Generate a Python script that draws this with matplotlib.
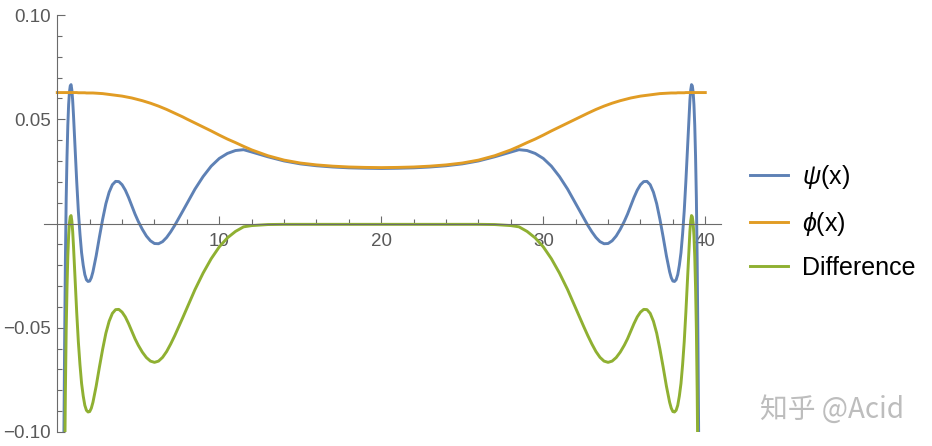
import numpy as np
import matplotlib
matplotlib.use("Agg")
import matplotlib.pyplot as plt
from matplotlib.ticker import FixedLocator

plt.rcParams['font.family'] = ['Liberation Sans', 'DejaVu Sans']
plt.rcParams['mathtext.fontset'] = 'custom'
plt.rcParams['mathtext.it'] = 'Liberation Sans:italic'
plt.rcParams['mathtext.rm'] = 'Liberation Sans'

# 采样点
x_vals = [0.0, 0.1, 0.2, 0.3, 0.35, 0.4, 0.45, 0.5, 0.55, 0.6,
          0.65, 0.7, 0.75, 0.8, 0.85, 0.9, 0.95, 1.0,
          1.1, 1.2, 1.3, 1.4, 1.5, 1.6, 1.7, 1.8, 1.9, 2.0, 2.1, 2.2,
          2.4, 2.6, 2.8, 3.0, 3.2, 3.4, 3.6, 3.8, 4.0, 4.2, 4.4, 4.6, 4.8,
          5.0, 5.25, 5.5, 5.75, 6.0, 6.25, 6.5, 6.75, 7.0, 7.25, 7.5, 7.75,
          8.0, 8.5, 9.0, 9.5, 10.0, 10.5, 11.0, 11.5, 12.0,
          13, 14, 15, 16, 17, 18, 19, 20,
          21, 22, 23, 24, 25, 26, 27,
          28.0, 28.5, 29.0, 29.5, 30.0, 30.5, 31.0, 31.5,
          32.0, 32.25, 32.5, 32.75, 33.0, 33.25, 33.5, 33.75, 34.0, 34.25, 34.5, 34.75,
          35.0, 35.2, 35.4, 35.6, 35.8, 36.0, 36.2, 36.4, 36.6, 36.8, 37.0, 37.2, 37.4, 37.6,
          37.8, 37.9, 38.0, 38.1, 38.2, 38.3, 38.4, 38.5, 38.6, 38.7, 38.8, 38.9,
          39.0, 39.05, 39.1, 39.15, 39.2, 39.25, 39.3, 39.35, 39.4, 39.45, 39.5, 39.55, 39.6, 39.65, 39.7,
          39.8, 39.9, 40.0]

psi_vals = [-0.40, -0.33, -0.26, -0.19, -0.15, -0.11, -0.06, -0.018, 0.012, 0.032,
            0.047, 0.057, 0.063, 0.066, 0.0666, 0.064, 0.059, 0.052,
            0.036, 0.020, 0.006, -0.005, -0.014, -0.020, -0.0245, -0.027, -0.0278, -0.0276, -0.026, -0.0232,
            -0.0155, -0.0065, 0.0020, 0.0095, 0.0150, 0.0186, 0.0202, 0.0201, 0.0186, 0.0160, 0.0125, 0.0085, 0.0045,
            0.0010, -0.0028, -0.0060, -0.0083, -0.0096, -0.0097, -0.0087, -0.0067, -0.0040, -0.0009, 0.0025, 0.0060,
            0.0095, 0.0165, 0.0225, 0.0275, 0.0312, 0.0336, 0.0350, 0.0354, 0.0343,
            0.0320, 0.0300, 0.0286, 0.0277, 0.0271, 0.0267, 0.0265, 0.0264,
            0.0265, 0.0267, 0.0271, 0.0277, 0.0286, 0.0300, 0.0320,
            0.0343, 0.0354, 0.0350, 0.0336, 0.0312, 0.0275, 0.0225, 0.0165,
            0.0095, 0.0060, 0.0025, -0.0009, -0.0040, -0.0067, -0.0087, -0.0097, -0.0096, -0.0083, -0.0060, -0.0028,
            0.0010, 0.0045, 0.0085, 0.0125, 0.0160, 0.0186, 0.0201, 0.0202, 0.0186, 0.0150, 0.0095, 0.0020, -0.0065, -0.0155,
            -0.0232, -0.026, -0.0276, -0.0278, -0.027, -0.0245, -0.020, -0.014, -0.005, 0.006, 0.020, 0.036,
            0.052, 0.059, 0.064, 0.0666, 0.066, 0.063, 0.057, 0.047, 0.032, 0.012, -0.018, -0.06, -0.11, -0.15, -0.19,
            -0.26, -0.33, -0.40]

phi_vals = [0.0628, 0.0628, 0.0628, 0.0628, 0.0628, 0.0628, 0.0628, 0.0628, 0.0628, 0.0628,
            0.0628, 0.0628, 0.0628, 0.0628, 0.0628, 0.0628, 0.0628, 0.0628,
            0.0628, 0.0628, 0.0627, 0.0627, 0.0627, 0.0627, 0.0627, 0.0626, 0.0626, 0.0626, 0.0626, 0.0626,
            0.0625, 0.0624, 0.0623, 0.0621, 0.0619, 0.0617, 0.0615, 0.0613, 0.0611, 0.0608, 0.0605, 0.0602, 0.0598,
            0.0594, 0.0589, 0.0583, 0.0577, 0.0570, 0.0563, 0.0555, 0.0547, 0.0538, 0.0529, 0.0520, 0.0511,
            0.0501, 0.0482, 0.0463, 0.0444, 0.0424, 0.0405, 0.0388, 0.0370, 0.0353,
            0.0325, 0.0304, 0.0290, 0.0281, 0.0275, 0.0271, 0.0269, 0.0268,
            0.0269, 0.0271, 0.0275, 0.0281, 0.0290, 0.0304, 0.0325,
            0.0353, 0.0370, 0.0388, 0.0405, 0.0424, 0.0444, 0.0463, 0.0482,
            0.0501, 0.0511, 0.0520, 0.0529, 0.0538, 0.0547, 0.0555, 0.0563, 0.0570, 0.0577, 0.0583, 0.0589,
            0.0594, 0.0598, 0.0602, 0.0605, 0.0608, 0.0611, 0.0613, 0.0615, 0.0617, 0.0619, 0.0621, 0.0623, 0.0624, 0.0625,
            0.0626, 0.0626, 0.0626, 0.0626, 0.0626, 0.0627, 0.0627, 0.0627, 0.0627, 0.0627, 0.0628, 0.0628,
            0.0628, 0.0628, 0.0628, 0.0628, 0.0628, 0.0628, 0.0628, 0.0628, 0.0628, 0.0628, 0.0628, 0.0628, 0.0628, 0.0628, 0.0628,
            0.0628, 0.0628, 0.0628]

x = np.array(x_vals)
psi = np.array(psi_vals)
phi = np.array(phi_vals)
diff = psi - phi

x_major = [10, 20, 30, 40]
y_major = [-0.10, -0.05, 0.05, 0.10]
y_labels = ['\u22120.10', '\u22120.05', '0.05', '0.10']

axis_col = '#6b6b6b'
text_col = '#595959'

fig = plt.figure(figsize=(9.32, 4.46), dpi=100)
ax = fig.add_axes([44 / 932, 14 / 446, 677 / 932, 417 / 446])

l1, = ax.plot(x, psi, color='#5e81b5', lw=2.1, label=r'$\psi$(x)')
l2, = ax.plot(x, phi, color='#e19c24', lw=2.1, label=r'$\phi$(x)')
l3, = ax.plot(x, diff, color='#8fb032', lw=2.1, label='Difference')

ax.set_xlim(-0.82, 40.97)
ax.set_ylim(-0.10, 0.10)

# 坐标轴放在原点
ax.spines['left'].set_position(('data', 0))
ax.spines['bottom'].set_position(('data', 0))
ax.spines['top'].set_visible(False)
ax.spines['right'].set_visible(False)
for s in ('left', 'bottom'):
    ax.spines[s].set_color(axis_col)
    ax.spines[s].set_linewidth(0.8)

ax.xaxis.set_major_locator(FixedLocator(x_major))
ax.xaxis.set_minor_locator(FixedLocator([v for v in range(2, 40, 2) if v % 10 != 0]))
ax.yaxis.set_major_locator(FixedLocator(y_major))
ax.yaxis.set_minor_locator(FixedLocator([k / 100 for k in range(-9, 10) if k % 5 != 0]))
ax.set_yticklabels(y_labels)

ax.tick_params(which='both', direction='in', color=axis_col, width=0.8,
               labelcolor=text_col, labelsize=13.5)
ax.tick_params(which='major', length=5.8)
ax.tick_params(which='minor', length=3.3)
ax.tick_params(axis='x', pad=6.5)
ax.tick_params(axis='y', pad=4.5)

leg = ax.legend(handles=[l1, l2, l3], loc='center left', bbox_to_anchor=(750 / 932, 0.503),
                bbox_transform=fig.transFigure, frameon=False, fontsize=18,
                handlelength=1.52, handletextpad=0.56, labelspacing=0.74,
                borderpad=0, borderaxespad=0)

fig.text(0.8155, 0.082, '知乎 @Acid', fontsize=20, color='#bdbdbd',
         family=['Noto Sans CJK SC', 'DejaVu Sans'], va='center', ha='left')

fig.savefig('out.png', dpi=100)
